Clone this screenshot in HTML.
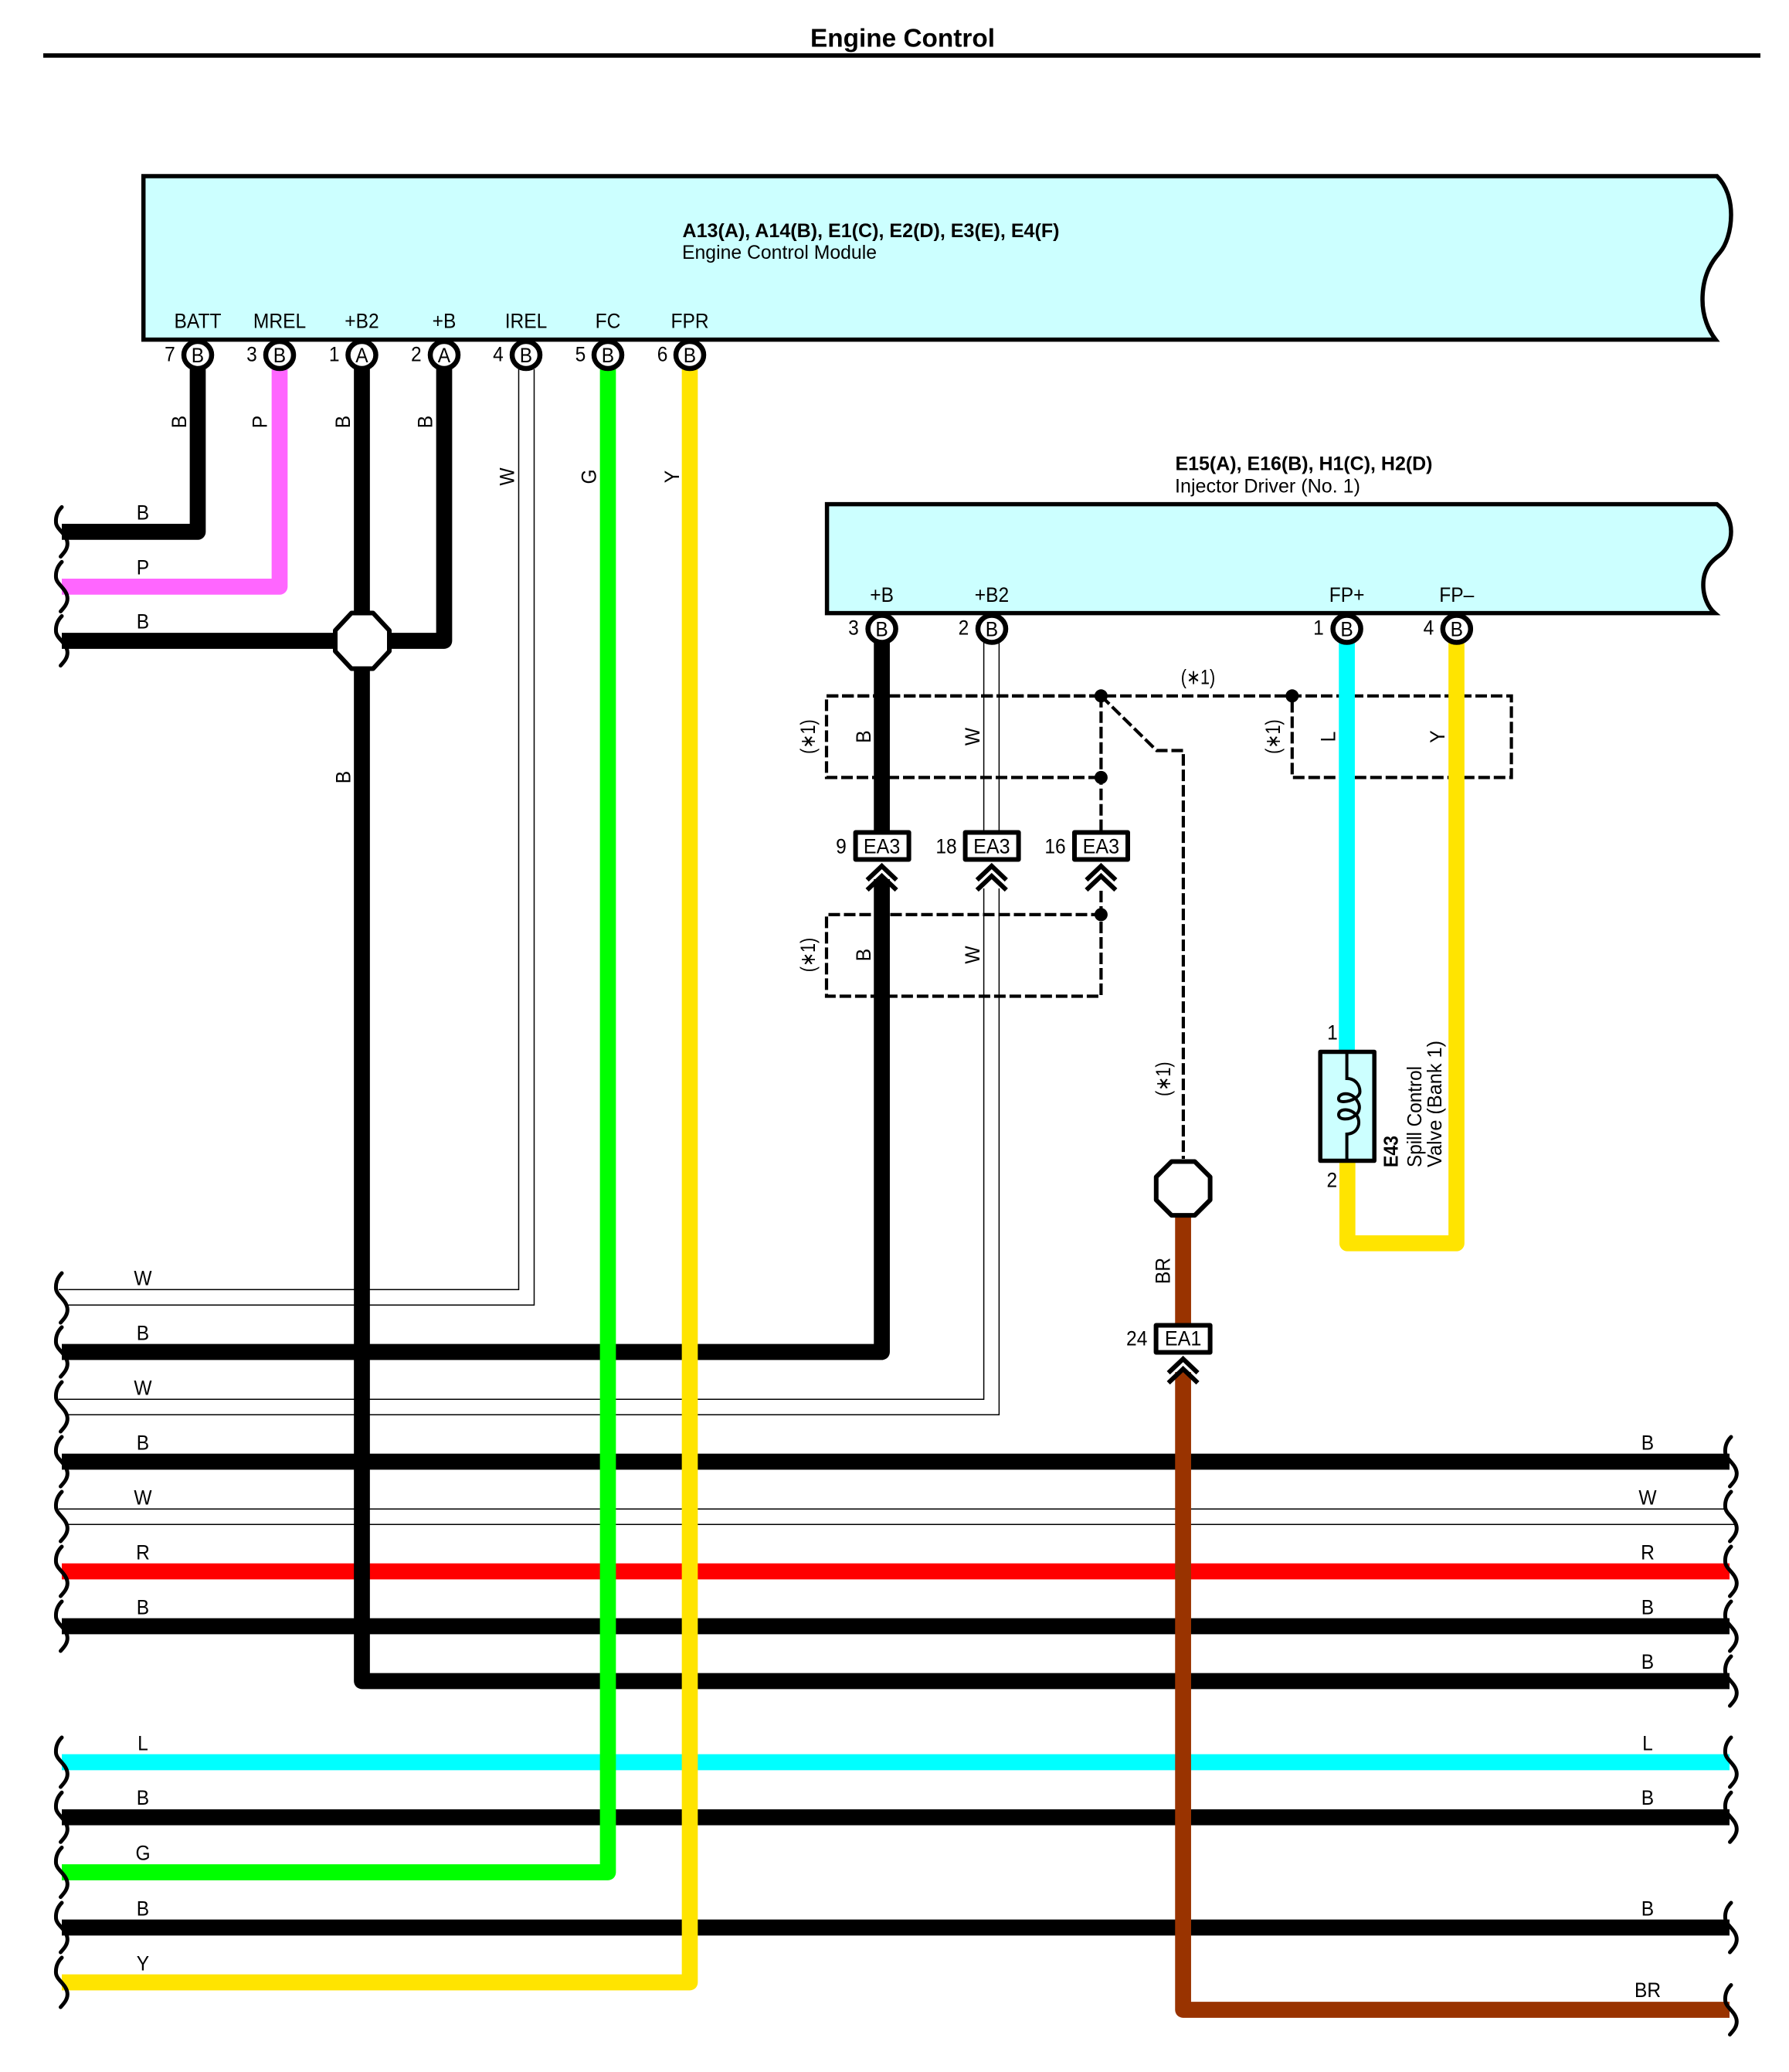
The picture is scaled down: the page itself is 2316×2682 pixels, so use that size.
<!DOCTYPE html>
<html><head><meta charset="utf-8"><title>Engine Control</title>
<style>
html,body{margin:0;padding:0;background:#fff}
svg{display:block}
text{font-family:"Liberation Sans",Arial,sans-serif;font-size:27px;fill:#000;text-anchor:middle}
.w{fill:none;stroke-width:20.7;stroke-linejoin:round}
.t{fill:none;stroke:#000;stroke-width:1.5}
.d{fill:none;stroke:#000;stroke-width:4.2;stroke-dasharray:15 5}
.k{fill:none;stroke:#000;stroke-width:5;stroke-linecap:round}
.c{fill:none;stroke:#000;stroke-width:6}
.p{fill:#fff;stroke:#000;stroke-width:6.5}
.o{fill:#fff;stroke:#000;stroke-width:6;stroke-linejoin:round}
.e{fill:#fff;stroke:#000;stroke-width:6;stroke-linejoin:round}
</style></head><body>
<svg xmlns="http://www.w3.org/2000/svg" width="2316" height="2682" viewBox="0 0 2316 2682">
<defs>
<path id="s" class="k" d="M80,-32 C74,-26 72,-19 72.5,-12 C73,-3 87,3 87.3,15 C87.5,22 83,27 78.5,32"/>
<path id="v" class="c" d="M-19,24 L0,6 L19,24 M-19,37 L0,19 L19,37"/>
</defs>
<rect width="2316" height="2682" fill="#fff"/>

<!-- title -->
<text x="1168.5" y="60.7" style="font-size:33px;font-weight:bold" textLength="239" lengthAdjust="spacingAndGlyphs">Engine Control</text>
<rect x="56" y="69" width="2223" height="5.7" fill="#000"/>

<!-- module boxes -->
<path d="M185.7,228 H2222.7 C2235,240 2241,258 2241,278 C2241,300 2234,318 2226.7,326.5 C2222,332 2204,350 2204,388 C2204,410 2212,428 2221,439.6 H185.7 Z" fill="#ccffff" stroke="#000" stroke-width="5.5"/>
<path d="M1070.6,652.6 H2222.7 C2233,660 2241,672 2241,688 C2241,702 2235,712 2226.7,718.4 C2220,723 2205,733 2205,757 C2205,772 2211,786 2220,793.6 H1070.6 Z" fill="#ccffff" stroke="#000" stroke-width="5.5"/>

<!-- dashed -->
<path class="d" d="M1070,900.8 H1956.6 V1006.4 H1672.8 V900.8"/>
<path class="d" d="M1425.4,900.8 H1070 V1006.4 H1425.4"/>
<path class="d" d="M1425.4,900.8 V1075"/>
<path class="d" d="M1425.4,1153 V1289.5 H1070 V1183.9 H1425.4"/>
<path class="d" d="M1425.4,900.8 L1497.4,971.5 H1531.9 V1500"/>
<g fill="#000">
<circle cx="1425.4" cy="900.8" r="8.5"/><circle cx="1425.4" cy="1006.4" r="8.5"/><circle cx="1672.8" cy="900.8" r="8.5"/><circle cx="1425.4" cy="1183.9" r="8.5"/>
</g>

<!-- thin W pairs -->
<path class="t" d="M76,1669.3 H671.5 V478"/>
<path class="t" d="M87,1689.3 H691.5 V478"/>
<path class="t" d="M76,1811.3 H1273.6 V1150"/>
<path class="t" d="M87,1831.3 H1293.4 V1150"/>
<path class="t" d="M1273.6,1076 V830"/>
<path class="t" d="M1293.4,1076 V830"/>
<path class="t" d="M76,1953.3 H2234"/>
<path class="t" d="M87,1973.3 H2247"/>

<!-- horizontal wires -->
<g class="w" stroke="#000">
<path d="M80,1892 H2239"/>
<path d="M80,2105 H2239"/>
<path d="M80,2352.3 H2239"/>
<path d="M80,2495 H2239"/>
</g>
<path class="w" stroke="#ff0000" d="M80,2034 H2239"/>
<path class="w" stroke="#00ffff" d="M80,2281 H2239"/>

<!-- vertical / L wires -->
<path class="w" stroke="#000" d="M80,1750 H1141.6 V1138"/>
<path class="w" stroke="#000" d="M468.5,470 V2176 H2239"/>
<path class="w" stroke="#000" d="M80,688.4 H256 V470"/>
<path class="w" stroke="#ff66ff" d="M80,759.4 H362 V470"/>
<path class="w" stroke="#000" d="M80,829.5 H575 V470"/>
<path class="w" stroke="#00ff00" d="M80,2423.5 H787 V470"/>
<path class="w" stroke="#ffe400" d="M80,2566 H893 V470"/>
<path class="w" stroke="#000" d="M1141.6,825 V1080"/>
<path class="w" stroke="#00ffff" d="M1743.6,825 V1365"/>
<path class="w" stroke="#ffe400" d="M1744.3,1500 V1609.3 H1885.5 V825"/>
<path class="w" stroke="#993300" d="M1531.6,1570 V1715"/>
<path class="w" stroke="#993300" d="M1531.6,1776 V2601.5 H2239"/>

<!-- squiggles left -->
<use href="#s" y="688.4"/><use href="#s" y="759.4"/><use href="#s" y="829.5"/>
<use href="#s" y="1680"/><use href="#s" y="1750"/><use href="#s" y="1821"/><use href="#s" y="1892"/><use href="#s" y="1963"/><use href="#s" y="2034"/><use href="#s" y="2105"/>
<use href="#s" y="2281"/><use href="#s" y="2352.3"/><use href="#s" y="2423.5"/><use href="#s" y="2495"/><use href="#s" y="2566"/>
<!-- squiggles right -->
<use href="#s" x="2161" y="1892"/><use href="#s" x="2161" y="1963"/><use href="#s" x="2161" y="2034"/><use href="#s" x="2161" y="2105"/><use href="#s" x="2161" y="2176"/>
<use href="#s" x="2161" y="2281"/><use href="#s" x="2161" y="2352.3"/><use href="#s" x="2161" y="2495"/><use href="#s" x="2161" y="2601.5"/>

<!-- junctions -->
<path class="o" d="M455,793.5 H483 L504,816 V843 L483,865.5 H455 L434,843 V816 Z"/>
<path class="o" d="M1516.7,1503.5 H1546.7 L1566.6,1523.4 V1553.2 L1546.7,1573.1 H1516.7 L1496.8,1553.2 V1523.4 Z"/>

<!-- pins -->
<ellipse class="p" cx="256" cy="459.5" rx="18" ry="17.5"/><ellipse class="p" cx="362" cy="459.5" rx="18" ry="17.5"/><ellipse class="p" cx="468.5" cy="459.5" rx="18" ry="17.5"/><ellipse class="p" cx="575" cy="459.5" rx="18" ry="17.5"/><ellipse class="p" cx="681" cy="459.5" rx="18" ry="17.5"/><ellipse class="p" cx="787" cy="459.5" rx="18" ry="17.5"/><ellipse class="p" cx="893" cy="459.5" rx="18" ry="17.5"/>
<ellipse class="p" cx="1141.6" cy="814" rx="18" ry="17.5"/><ellipse class="p" cx="1284" cy="814" rx="18" ry="17.5"/><ellipse class="p" cx="1743.6" cy="814" rx="18" ry="17.5"/><ellipse class="p" cx="1885.8" cy="814" rx="18" ry="17.5"/>

<!-- connectors -->
<rect class="e" x="1107.6" y="1077.5" width="69" height="35"/>
<rect class="e" x="1249.6" y="1077.5" width="69" height="35"/>
<rect class="e" x="1391" y="1077.5" width="69" height="35"/>
<rect class="e" x="1496.6" y="1715.5" width="70" height="35"/>
<use href="#v" x="1141.6" y="1115"/><use href="#v" x="1283.8" y="1115"/><use href="#v" x="1425.4" y="1115"/><use href="#v" x="1531.6" y="1753"/>

<!-- spill valve -->
<rect x="1709.2" y="1361.5" width="70" height="141" fill="#ccffff" stroke="#000" stroke-width="5.5" stroke-linejoin="round"/>
<path d="M1743.6,1361 V1396 C1755,1396 1760.5,1405 1760.5,1413 C1760.5,1424 1734,1430 1733,1423 C1732,1414 1750,1412 1757,1425 C1762,1432 1760,1440 1754,1444 C1747,1450 1733,1450 1733,1443 C1733,1434 1750,1434 1757,1445 C1762,1454 1758,1467 1743.6,1468 V1503" fill="none" stroke="#000" stroke-width="4"/>

<!-- header text -->
<text x="1127.5" y="307" style="font-size:25px;font-weight:bold" textLength="488" lengthAdjust="spacingAndGlyphs">A13(A), A14(B), E1(C), E2(D), E3(E), E4(F)</text>
<text x="1009" y="335" style="font-size:25px" textLength="252" lengthAdjust="spacingAndGlyphs">Engine Control Module</text>
<text x="1688" y="608.5" style="font-size:25px;font-weight:bold" textLength="333" lengthAdjust="spacingAndGlyphs">E15(A), E16(B), H1(C), H2(D)</text>
<text x="1641" y="637.5" style="font-size:25px" textLength="240" lengthAdjust="spacingAndGlyphs">Injector Driver (No. 1)</text>

<!-- module labels -->
<text transform="translate(256,424.7) scale(.91,1)">BATT</text>
<text transform="translate(362,424.7) scale(.91,1)">MREL</text>
<text transform="translate(468.5,424.7) scale(.91,1)">+B2</text>
<text transform="translate(575,424.7) scale(.91,1)">+B</text>
<text transform="translate(681,424.7) scale(.91,1)">IREL</text>
<text transform="translate(787,424.7) scale(.91,1)">FC</text>
<text transform="translate(893,424.7) scale(.91,1)">FPR</text>
<text transform="translate(1141.6,779) scale(.91,1)">+B</text>
<text transform="translate(1284,779) scale(.91,1)">+B2</text>
<text transform="translate(1743.6,779) scale(.91,1)">FP+</text>
<text transform="translate(1885.8,779) scale(.91,1)">FP–</text>

<!-- pin letters -->
<text transform="translate(256,469) scale(.91,1)">B</text>
<text transform="translate(362,469) scale(.91,1)">B</text>
<text transform="translate(468.5,469) scale(.91,1)">A</text>
<text transform="translate(575,469) scale(.91,1)">A</text>
<text transform="translate(681,469) scale(.91,1)">B</text>
<text transform="translate(787,469) scale(.91,1)">B</text>
<text transform="translate(893,469) scale(.91,1)">B</text>
<text transform="translate(1141.6,823.5) scale(.91,1)">B</text>
<text transform="translate(1284,823.5) scale(.91,1)">B</text>
<text transform="translate(1743.6,823.5) scale(.91,1)">B</text>
<text transform="translate(1885.8,823.5) scale(.91,1)">B</text>

<!-- pin numbers -->
<text transform="translate(220,467.5) scale(.91,1)">7</text>
<text transform="translate(326,467.5) scale(.91,1)">3</text>
<text transform="translate(432.7,467.5) scale(.91,1)">1</text>
<text transform="translate(538.8,467.5) scale(.91,1)">2</text>
<text transform="translate(645,467.5) scale(.91,1)">4</text>
<text transform="translate(751.5,467.5) scale(.91,1)">5</text>
<text transform="translate(857.6,467.5) scale(.91,1)">6</text>
<text transform="translate(1105,821.7) scale(.91,1)">3</text>
<text transform="translate(1247.4,821.7) scale(.91,1)">2</text>
<text transform="translate(1707,821.7) scale(.91,1)">1</text>
<text transform="translate(1849.5,821.7) scale(.91,1)">4</text>
<text transform="translate(1089,1104.3) scale(.91,1)">9</text>
<text transform="translate(1225,1104.3) scale(.91,1)">18</text>
<text transform="translate(1366,1104.3) scale(.91,1)">16</text>
<text transform="translate(1471.7,1741.4) scale(.91,1)">24</text>
<text transform="translate(1725,1345.7) scale(.91,1)">1</text>
<text transform="translate(1724.3,1536.7) scale(.91,1)">2</text>

<!-- connector names -->
<text transform="translate(1141.6,1104.3) scale(.93,1)">EA3</text>
<text transform="translate(1283.8,1104.3) scale(.93,1)">EA3</text>
<text transform="translate(1425.4,1104.3) scale(.93,1)">EA3</text>
<text transform="translate(1531.6,1741.7) scale(.93,1)">EA1</text>

<!-- rotated wire labels -->
<text transform="translate(241,546) rotate(-90) scale(.91,1)">B</text>
<text transform="translate(345.7,546) rotate(-90) scale(.91,1)">P</text>
<text transform="translate(453,546) rotate(-90) scale(.91,1)">B</text>
<text transform="translate(559.7,546) rotate(-90) scale(.91,1)">B</text>
<text transform="translate(665.7,617) rotate(-90) scale(.91,1)">W</text>
<text transform="translate(771.7,617) rotate(-90) scale(.91,1)">G</text>
<text transform="translate(879,617) rotate(-90) scale(.91,1)">Y</text>
<text transform="translate(453.7,1006) rotate(-90) scale(.91,1)">B</text>
<text transform="translate(1127,953.6) rotate(-90) scale(.91,1)">B</text>
<text transform="translate(1268,953.6) rotate(-90) scale(.91,1)">W</text>
<text transform="translate(1728.5,953.6) rotate(-90) scale(.91,1)">L</text>
<text transform="translate(1870,953.6) rotate(-90) scale(.91,1)">Y</text>
<text transform="translate(1127,1236) rotate(-90) scale(.91,1)">B</text>
<text transform="translate(1268,1236) rotate(-90) scale(.91,1)">W</text>
<text transform="translate(1514.7,1645) rotate(-90) scale(.91,1)">BR</text>

<!-- (*1) -->
<text transform="translate(1551,885.5) scale(.8,1)">(∗1)</text>
<text transform="translate(1055,953.6) rotate(-90) scale(.8,1)">(∗1)</text>
<text transform="translate(1657,953.6) rotate(-90) scale(.8,1)">(∗1)</text>
<text transform="translate(1055,1236) rotate(-90) scale(.8,1)">(∗1)</text>
<text transform="translate(1515,1396.7) rotate(-90) scale(.8,1)">(∗1)</text>

<!-- E43 -->
<text transform="translate(1809.5,1490.5) rotate(-90)" style="font-size:26px;font-weight:bold" textLength="41" lengthAdjust="spacingAndGlyphs">E43</text>
<text transform="translate(1840,1445.5) rotate(-90)" style="font-size:26px" textLength="131" lengthAdjust="spacingAndGlyphs">Spill Control</text>
<text transform="translate(1866,1429) rotate(-90)" style="font-size:26px" textLength="164" lengthAdjust="spacingAndGlyphs">Valve (Bank 1)</text>

<!-- horizontal wire labels left -->
<text transform="translate(185,672.7) scale(.91,1)">B</text>
<text transform="translate(185,743.7) scale(.91,1)">P</text>
<text transform="translate(185,813.7) scale(.91,1)">B</text>
<text transform="translate(185,1663.7) scale(.91,1)">W</text>
<text transform="translate(185,1734.7) scale(.91,1)">B</text>
<text transform="translate(185,1805.7) scale(.91,1)">W</text>
<text transform="translate(185,1876.7) scale(.91,1)">B</text>
<text transform="translate(185,1947.7) scale(.91,1)">W</text>
<text transform="translate(185,2018.7) scale(.91,1)">R</text>
<text transform="translate(185,2089.7) scale(.91,1)">B</text>
<text transform="translate(185,2265.7) scale(.91,1)">L</text>
<text transform="translate(185,2336) scale(.91,1)">B</text>
<text transform="translate(185,2407.5) scale(.91,1)">G</text>
<text transform="translate(185,2479.7) scale(.91,1)">B</text>
<text transform="translate(185,2550.7) scale(.91,1)">Y</text>

<!-- horizontal wire labels right -->
<text transform="translate(2133,1876.7) scale(.91,1)">B</text>
<text transform="translate(2133,1947.7) scale(.91,1)">W</text>
<text transform="translate(2133,2018.7) scale(.91,1)">R</text>
<text transform="translate(2133,2089.7) scale(.91,1)">B</text>
<text transform="translate(2133,2160) scale(.91,1)">B</text>
<text transform="translate(2133,2265.7) scale(.91,1)">L</text>
<text transform="translate(2133,2336) scale(.91,1)">B</text>
<text transform="translate(2133,2479.7) scale(.91,1)">B</text>
<text transform="translate(2133,2585) scale(.91,1)">BR</text>
</svg>
</body></html>
